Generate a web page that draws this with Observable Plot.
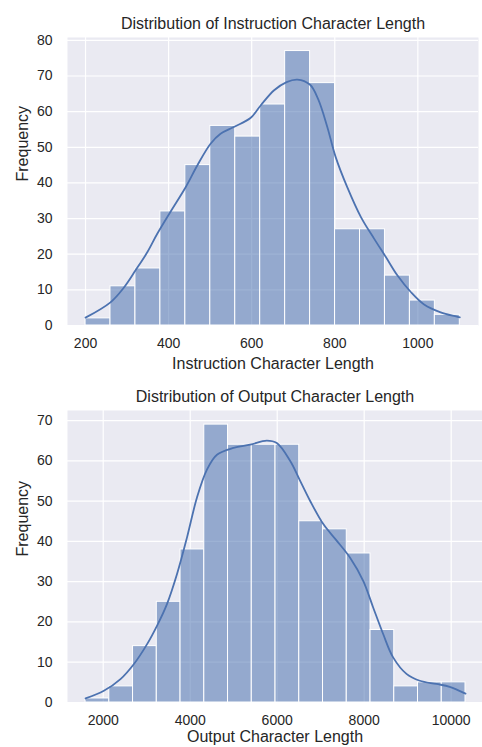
<!DOCTYPE html>
<html>
<head>
<meta charset="utf-8">
<script src="https://cdn.jsdelivr.net/npm/d3@7"></script>
<script src="https://cdn.jsdelivr.net/npm/@observablehq/plot@0.6"></script>
<style>
  html, body { margin: 0; padding: 0; background: #ffffff; }
  body { width: 482px; height: 747px; position: relative; overflow: hidden; font-family: "Liberation Sans", Arial, sans-serif; }
  .panel { position: absolute; left: 0; }
</style>
</head>
<body>
<div id="top" class="panel" style="top:0px"></div>
<div id="bottom" class="panel" style="top:375px"></div>
<script>
// ---- Instruction character length ----
const instTitle = "Distribution of Instruction Character Length";
const instXLabel = "Instruction Character Length";
const instRange = [200, 1101];
const instCounts = [2, 11, 16, 32, 45, 56, 53, 62, 77, 68, 27, 27, 14, 7, 3];
const instKdeX = [200, 260, 292, 320, 349, 373, 405, 441, 469, 501, 525, 557, 597, 622, 654, 684, 710, 740, 760, 782, 802, 830, 863, 895, 923, 951, 983, 1015, 1055, 1101];
const instKdeY = [2.2, 6.5, 10.6, 15.4, 20.6, 25.8, 32, 38.8, 44.9, 51, 53.8, 55.7, 58.2, 61.8, 66, 68.3, 69, 67.6, 63.5, 55.7, 47.3, 38.8, 30.4, 24.3, 19.2, 14, 9.4, 5.9, 3.7, 2.3];
const instXTicks = [200, 400, 600, 800, 1000];
const instYTicks = [0, 10, 20, 30, 40, 50, 60, 70, 80];

// ---- Output character length ----
const outTitle = "Distribution of Output Character Length";
const outXLabel = "Output Character Length";
const outRange = [1594, 10329];
const outCounts = [1, 4, 14, 25, 38, 69, 64, 64, 64, 45, 43, 37, 18, 4, 5, 5];
const outKdeX = [1594, 2015, 2397, 2702, 3009, 3239, 3468, 3697, 3927, 4156, 4385, 4615, 4995, 5378, 5761, 5991, 6296, 6525, 6755, 7060, 7367, 7672, 7977, 8206, 8436, 8665, 8972, 9278, 9661, 9966, 10329];
const outKdeY = [1.0, 2.9, 5.8, 9.5, 14.5, 19.1, 24.5, 31.9, 41, 50.9, 57.8, 61.5, 63.2, 64, 65, 64.4, 60, 55.1, 50.1, 44.3, 40.2, 36, 30.2, 23.6, 17, 11.2, 7.1, 5.4, 4.6, 3.9, 2.2];
const outXTicks = [2000, 4000, 6000, 8000, 10000];
const outYTicks = [0, 10, 20, 30, 40, 50, 60, 70];

const yLabel = "Frequency";

function bins(range, counts) {
  const w = (range[1] - range[0]) / counts.length;
  return counts.map((c, i) => ({x1: range[0] + i * w, x2: range[0] + (i + 1) * w, y: c}));
}

function panel(opts) {
  const bars = bins(opts.range, opts.counts);
  const kde = opts.kdeX.map((x, i) => ({x, y: opts.kdeY[i]}));
  const ink = "#262626";
  const fmt = d3.format("d");
  return Plot.plot({
    width: 482,
    height: opts.height,
    marginLeft: 67,
    marginRight: opts.marginRight,
    marginTop: opts.marginTop,
    marginBottom: opts.marginBottom,
    style: {fontFamily: '"Liberation Sans", Arial, sans-serif', fontSize: "14px", color: ink, background: "transparent", overflow: "visible"},
    x: {domain: opts.xDomain, ticks: opts.xTicks, label: null},
    y: {domain: opts.yDomain, ticks: opts.yTicks, label: null},
    marks: [
      Plot.frame({fill: "#EAEAF2", stroke: null}),
      Plot.gridX(opts.xTicks, {stroke: "#ffffff", strokeOpacity: 1, strokeWidth: 1.2}),
      Plot.gridY(opts.yTicks, {stroke: "#ffffff", strokeOpacity: 1, strokeWidth: 1.2}),
      Plot.rectY(bars, {x1: "x1", x2: "x2", y: "y", fill: "#4C72B0", fillOpacity: 0.55, stroke: "#ffffff", strokeWidth: 1, inset: 0}),
      Plot.line(kde, {x: "x", y: "y", stroke: "#4C72B0", strokeWidth: 1.8, curve: "catmull-rom"}),
      Plot.axisX(opts.xTicks, {tickSize: 0, tickPadding: 13, fontSize: 14, fill: ink, label: null, tickFormat: fmt}),
      Plot.axisY(opts.yTicks, {tickSize: 0, tickPadding: 15, fontSize: 14, fill: ink, label: null, tickFormat: fmt}),
      Plot.text([opts.title], {frameAnchor: "top", dy: -14, fontSize: 16, fill: ink, lineAnchor: "middle"}),
      Plot.text([opts.xLabel], {frameAnchor: "bottom", dy: opts.xLabelDy, fontSize: 16, fill: ink, lineAnchor: "middle"}),
      Plot.text([yLabel], {frameAnchor: "left", dx: -45, rotate: -90, fontSize: 16, fill: ink, lineAnchor: "middle"})
    ]
  });
}

document.getElementById("top").appendChild(panel({
  height: 375, marginTop: 37, marginBottom: 50, marginRight: 4, xLabelDy: 38,
  range: instRange, counts: instCounts, kdeX: instKdeX, kdeY: instKdeY,
  xDomain: [156.6, 1146], yDomain: [0, 80.8], xTicks: instXTicks, yTicks: instYTicks,
  title: instTitle, xLabel: instXLabel
}));

document.getElementById("bottom").appendChild(panel({
  height: 372, marginTop: 35, marginBottom: 45, marginRight: 0, xLabelDy: 34,
  range: outRange, counts: outCounts, kdeX: outKdeX, kdeY: outKdeY,
  xDomain: [1179, 10720], yDomain: [0, 72.5], xTicks: outXTicks, yTicks: outYTicks,
  title: outTitle, xLabel: outXLabel
}));
</script>
</body>
</html>
